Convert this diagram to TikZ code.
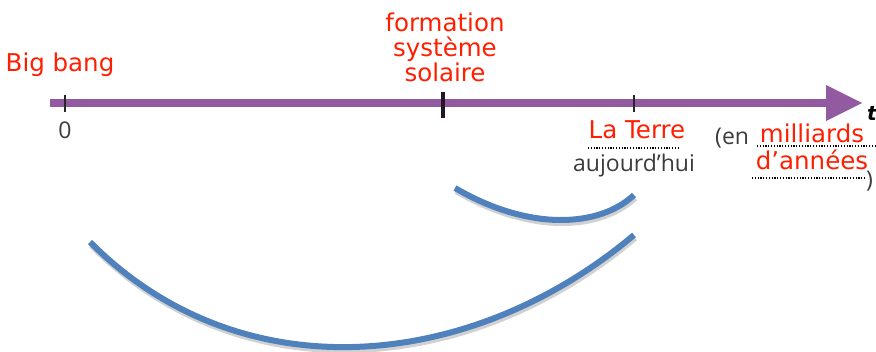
\documentclass[tikz,border=0pt]{standalone}
\usepackage{fontspec}
\setmainfont{DejaVu Sans}
\newfontfamily\grisfont{Open Sans}
\definecolor{violet}{RGB}{146,90,160}
\definecolor{bleu}{RGB}{79,129,189}
\definecolor{rouge}{RGB}{255,30,0}
\definecolor{gris}{RGB}{60,60,60}

\begin{document}
\begin{tikzpicture}[x=1pt, y=-1pt,
	rouge/.style={text=rouge, font=\fontsize{24.5}{25}\selectfont, inner sep=0pt, align=center},
	gris/.style={text=gris, font=\grisfont\fontsize{23}{24}\selectfont, inner sep=0pt},
	pointille/.style={gris, dash pattern=on 1.2pt off 1.6pt, line width=1.6pt},
	courbe/.style={bleu, line width=6pt}]
	\useasboundingbox (0,0) rectangle (876,351);
	%l'axe du temps
	\draw[violet, line width=8pt] (50,103) -- (830,103);
	\fill[violet] (826,85) -- (862,103) -- (826,121) -- cycle;
	\node[text=black, font=\bfseries\itshape\fontsize{20}{20}\selectfont, inner sep=0pt] (t) at (872,113) {t};
	%les graduations
	\draw[black!85, line width=1.8pt] (65,95) -- (65,112);
	\draw[black!75!violet, line width=4pt] (443,92) -- (443,118);
	\draw[black!85, line width=1.8pt] (634,95) -- (634,112);
	\node[gris] (zero) at (65,130) {0};
	%les textes
	\node[rouge] (bigbang) at (60,65) {Big bang};
	\node[rouge] (formation) at (445,47) {formation\\système\\solaire};
	\node[rouge] (terre) at (637,130) {La Terre};
	\node[gris] (aujourdhui) at (634,166) {aujourd’hui};
	\node[gris, anchor=west] (en) at (715,138) {(en};
	\node[rouge] (milliards) at (812,133) {milliards};
	\node[rouge] (annees) at (812,160) {d’années};
	\node[gris, anchor=west] (parenthese) at (866,181) {)};
	%les pointilles
	\draw[pointille] (588,148) -- (678,148);
	\draw[pointille] (757,146) -- (876,146);
	\draw[pointille] (752,178) -- (866,178);
	%les courbes
	\coordinate (a1) at (455,188);
	\coordinate (a2) at (634,195);
	\coordinate (b1) at (90,242);
	\coordinate (b2) at (634,235);
	\draw[black!18, line width=6pt] (a1) ++(1,3) .. controls (531,235) and (601,230) .. ++(179,7);
	\draw[black!18, line width=6pt] (b1) ++(1,3) .. controls (241,396) and (471,376) .. ++(544,-7);
	\draw[courbe] (a1) .. controls (530,232) and (600,227) .. (a2);
	\draw[courbe] (b1) .. controls (240,393) and (470,373) .. (b2);
\end{tikzpicture}
\end{document}
